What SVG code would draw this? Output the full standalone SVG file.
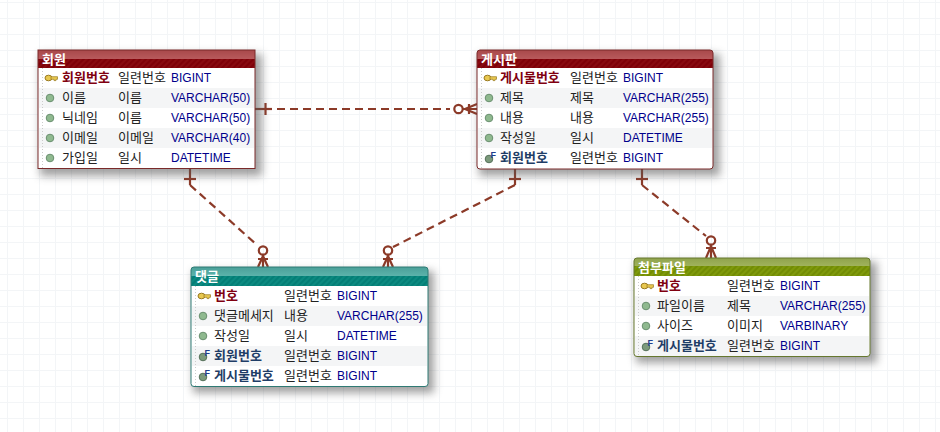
<svg xmlns="http://www.w3.org/2000/svg" xmlns:xlink="http://www.w3.org/1999/xlink" width="940" height="432" viewBox="0 0 940 432">
<style>
text{font-family:"Noto Sans CJK KR","Liberation Sans",sans-serif;font-size:13px}
.v{font-family:"Liberation Sans","Noto Sans CJK KR",sans-serif;font-size:12px;fill:#00008b}
.n{fill:#222}
.pk{fill:#800010;font-weight:700}
.fk{fill:#1f3d66;font-weight:700}
.h{fill:#fff;font-weight:700}
.c{fill:none;stroke:#8c3a28;stroke-width:2.2}
.d{stroke-dasharray:8 5}
.alt{fill:#f4f5f6}
.body{fill:#fff;stroke-width:1}
</style>
<defs>
<pattern id="g" width="16" height="16" patternUnits="userSpaceOnUse" patternTransform="translate(-8 -13)"><path d="M15.500 0V16M0 15.500H16" fill="none" stroke="#f3f5f7" stroke-width="1"/></pattern>
<filter id="s" x="-10%" y="-15%" width="125%" height="135%"><feGaussianBlur stdDeviation="4"/></filter>
<linearGradient id="tr" x1="0" y1="0" x2="0" y2="1"><stop offset="0" stop-color="#a8484a"/><stop offset="1" stop-color="#b85a5c"/></linearGradient>
<linearGradient id="tt" x1="0" y1="0" x2="0" y2="1"><stop offset="0" stop-color="#4a9f98"/><stop offset="1" stop-color="#5cb3ab"/></linearGradient>
<linearGradient id="to" x1="0" y1="0" x2="0" y2="1"><stop offset="0" stop-color="#8fa24c"/><stop offset="1" stop-color="#a0b35c"/></linearGradient>
<pattern id="hr" width="4" height="4" patternUnits="userSpaceOnUse" patternTransform="rotate(45)"><rect width="4" height="4" fill="#880a10"/><rect width="2" height="4" fill="#7e0008"/></pattern>
<pattern id="ht" width="4" height="4" patternUnits="userSpaceOnUse" patternTransform="rotate(45)"><rect width="4" height="4" fill="#0c8a80"/><rect width="2" height="4" fill="#047e76"/></pattern>
<pattern id="ho" width="4" height="4" patternUnits="userSpaceOnUse" patternTransform="rotate(45)"><rect width="4" height="4" fill="#7f9a0c"/><rect width="2" height="4" fill="#728c04"/></pattern>
<g id="key"><ellipse cx="3.500" cy="0" rx="3.500" ry="2.800" fill="#e8c850" stroke="#9a7a20" stroke-width="1"/><path d="M6 -1.300H12.500V1.300H11V2.600H9V1.300H6Z" fill="#e8c850" stroke="#9a7a20" stroke-width=".7"/></g>
<g id="dot"><circle r="3.800" fill="#8fb98f" stroke="#6a8f70" stroke-width="1"/></g>
<g id="fk"><circle cx="-1" cy="1" r="3.800" fill="#7c9a7c" stroke="#55705a" stroke-width="1"/><text x="0.500" y="-0.500" style="font-family:'Liberation Sans',sans-serif;font-size:9px;font-weight:700;fill:#1f3d8c">F</text></g>
</defs>
<rect width="940" height="432" fill="#fff"/>
<rect width="940" height="432" fill="url(#g)"/>

<g id="connectors">
<path class="c" d="M255 109H272"/>
<path class="c d" d="M277 109H450"/>
<path class="c" d="M265.500 103V115"/>
<circle class="c" cx="458.500" cy="109" r="4.200"/>
<path class="c" d="M463 109H477M477 104L465 109L477 114M469 104V114"/>
<path class="c" d="M190 169V185"/>
<path class="c" d="M184 179H196"/>
<path class="c d" d="M190 185L257 245"/>
<circle class="c" cx="263" cy="250.500" r="4.200"/>
<path class="c" d="M263 255V267M258 267L263 256L268 267M258 259H268"/>
<path class="c" d="M515 169V185"/>
<path class="c" d="M509 179H521"/>
<path class="c d" d="M515 185L393 247"/>
<circle class="c" cx="388" cy="250.500" r="4.200"/>
<path class="c" d="M388 255V267M383 267L388 256L393 267M383 259H393"/>
<path class="c" d="M642 169V185"/>
<path class="c" d="M636 179H648"/>
<path class="c d" d="M642 185L706 236"/>
<circle class="c" cx="711" cy="240.500" r="4.200"/>
<path class="c" d="M711 245V258M706 258L711 246L716 258M706 248H716"/>
</g>

<g id="t1">
<rect x="40" y="54" width="222" height="122" fill="#555" opacity=".55" filter="url(#s)"/>
<rect class="body" x="38" y="50" width="217" height="119" fill="#fff"/>
<rect x="38" y="50" width="217" height="9" fill="url(#tr)"/><rect x="38" y="59" width="217" height="9" fill="url(#hr)"/>
<rect class="alt" x="39" y="88" width="215" height="20"/><rect class="alt" x="39" y="128" width="215" height="20"/>
<path d="M42.500 68V168" stroke="#ccc" stroke-dasharray="1 2"/>
<rect x="38" y="50" width="217" height="118.500" fill="none" stroke="#7a2a2a"/>
<text class="h" x="42" y="64">회원</text>
<use xlink:href="#key" x="45" y="78"/><text class="pk" x="62" y="82">회원번호</text><text class="n" x="118" y="82">일련번호</text><text class="v" x="171" y="82">BIGINT</text>
<use xlink:href="#dot" x="50" y="98"/><text class="n" x="62" y="102">이름</text><text class="n" x="118" y="102">이름</text><text class="v" x="171" y="102">VARCHAR(50)</text>
<use xlink:href="#dot" x="50" y="118"/><text class="n" x="62" y="122">닉네임</text><text class="n" x="118" y="122">이름</text><text class="v" x="171" y="122">VARCHAR(50)</text>
<use xlink:href="#dot" x="50" y="138"/><text class="n" x="62" y="142">이메일</text><text class="n" x="118" y="142">이메일</text><text class="v" x="171" y="142">VARCHAR(40)</text>
<use xlink:href="#dot" x="50" y="158"/><text class="n" x="62" y="162">가입일</text><text class="n" x="118" y="162">일시</text><text class="v" x="171" y="162">DATETIME</text>
</g>

<g id="t2">
<rect x="479" y="54" width="241" height="122" fill="#555" opacity=".55" filter="url(#s)"/>
<rect class="body" x="477" y="50" width="236" height="119" rx="3" fill="#fff"/>
<path d="M477 59V53a3 3 0 0 1 3-3H710a3 3 0 0 1 3 3V59Z" fill="url(#tr)"/><rect x="477" y="59" width="236" height="9" fill="url(#hr)"/>
<rect class="alt" x="478" y="88" width="234" height="20"/><rect class="alt" x="478" y="128" width="234" height="20"/>
<path d="M481.500 68V168" stroke="#ccc" stroke-dasharray="1 2"/>
<rect x="477" y="50" width="236" height="119" rx="3" fill="none" stroke="#7a2a2a"/>
<text class="h" x="481" y="64">게시판</text>
<use xlink:href="#key" x="484" y="78"/><text class="pk" x="500" y="82">게시물번호</text><text class="n" x="570" y="82">일련번호</text><text class="v" x="623" y="82">BIGINT</text>
<use xlink:href="#dot" x="489" y="98"/><text class="n" x="500" y="102">제목</text><text class="n" x="570" y="102">제목</text><text class="v" x="623" y="102">VARCHAR(255)</text>
<use xlink:href="#dot" x="489" y="118"/><text class="n" x="500" y="122">내용</text><text class="n" x="570" y="122">내용</text><text class="v" x="623" y="122">VARCHAR(255)</text>
<use xlink:href="#dot" x="489" y="138"/><text class="n" x="500" y="142">작성일</text><text class="n" x="570" y="142">일시</text><text class="v" x="623" y="142">DATETIME</text>
<use xlink:href="#fk" x="490" y="158"/><text class="fk" x="500" y="162">회원번호</text><text class="n" x="570" y="162">일련번호</text><text class="v" x="623" y="162">BIGINT</text>
</g>

<g id="t3">
<rect x="193" y="271" width="241" height="122" fill="#555" opacity=".55" filter="url(#s)"/>
<rect class="body" x="191" y="267" width="237" height="119.500" rx="3" fill="#fff"/>
<path d="M191 276V270a3 3 0 0 1 3-3H425a3 3 0 0 1 3 3V276Z" fill="url(#tt)"/><rect x="191" y="276" width="237" height="10" fill="url(#ht)"/>
<rect class="alt" x="192" y="306" width="235" height="20"/><rect class="alt" x="192" y="346" width="235" height="20"/>
<path d="M195.500 286V386" stroke="#ccc" stroke-dasharray="1 2"/>
<rect x="191" y="267" width="237" height="119.500" rx="3" fill="none" stroke="#2f7a74"/>
<text class="h" x="195" y="281">댓글</text>
<use xlink:href="#key" x="198" y="296"/><text class="pk" x="214" y="300">번호</text><text class="n" x="284" y="300">일련번호</text><text class="v" x="337" y="300">BIGINT</text>
<use xlink:href="#dot" x="203" y="316"/><text class="n" x="214" y="320">댓글메세지</text><text class="n" x="284" y="320">내용</text><text class="v" x="337" y="320">VARCHAR(255)</text>
<use xlink:href="#dot" x="203" y="336"/><text class="n" x="214" y="340">작성일</text><text class="n" x="284" y="340">일시</text><text class="v" x="337" y="340">DATETIME</text>
<use xlink:href="#fk" x="204" y="356"/><text class="fk" x="214" y="360">회원번호</text><text class="n" x="284" y="360">일련번호</text><text class="v" x="337" y="360">BIGINT</text>
<use xlink:href="#fk" x="204" y="376"/><text class="fk" x="214" y="380">게시물번호</text><text class="n" x="284" y="380">일련번호</text><text class="v" x="337" y="380">BIGINT</text>
</g>

<g id="t4">
<rect x="636" y="262" width="241" height="101" fill="#555" opacity=".55" filter="url(#s)"/>
<rect class="body" x="634" y="258" width="236" height="98.500" rx="3" fill="#fff"/>
<path d="M634 266V261a3 3 0 0 1 3-3H867a3 3 0 0 1 3 3V266Z" fill="url(#to)"/><rect x="634" y="266" width="236" height="10" fill="url(#ho)"/>
<rect class="alt" x="635" y="296" width="234" height="20"/><rect class="alt" x="635" y="336" width="234" height="20"/>
<path d="M638.500 276V356" stroke="#ccc" stroke-dasharray="1 2"/>
<rect x="634" y="258" width="236" height="98.500" rx="3" fill="none" stroke="#66782f"/>
<text class="h" x="638" y="272">첨부파일</text>
<use xlink:href="#key" x="641" y="286"/><text class="pk" x="657" y="290">번호</text><text class="n" x="727" y="290">일련번호</text><text class="v" x="780" y="290">BIGINT</text>
<use xlink:href="#dot" x="646" y="306"/><text class="n" x="657" y="310">파일이름</text><text class="n" x="727" y="310">제목</text><text class="v" x="780" y="310">VARCHAR(255)</text>
<use xlink:href="#dot" x="646" y="326"/><text class="n" x="657" y="330">사이즈</text><text class="n" x="727" y="330">이미지</text><text class="v" x="780" y="330">VARBINARY</text>
<use xlink:href="#fk" x="647" y="346"/><text class="fk" x="657" y="350">게시물번호</text><text class="n" x="727" y="350">일련번호</text><text class="v" x="780" y="350">BIGINT</text>
</g>
</svg>
